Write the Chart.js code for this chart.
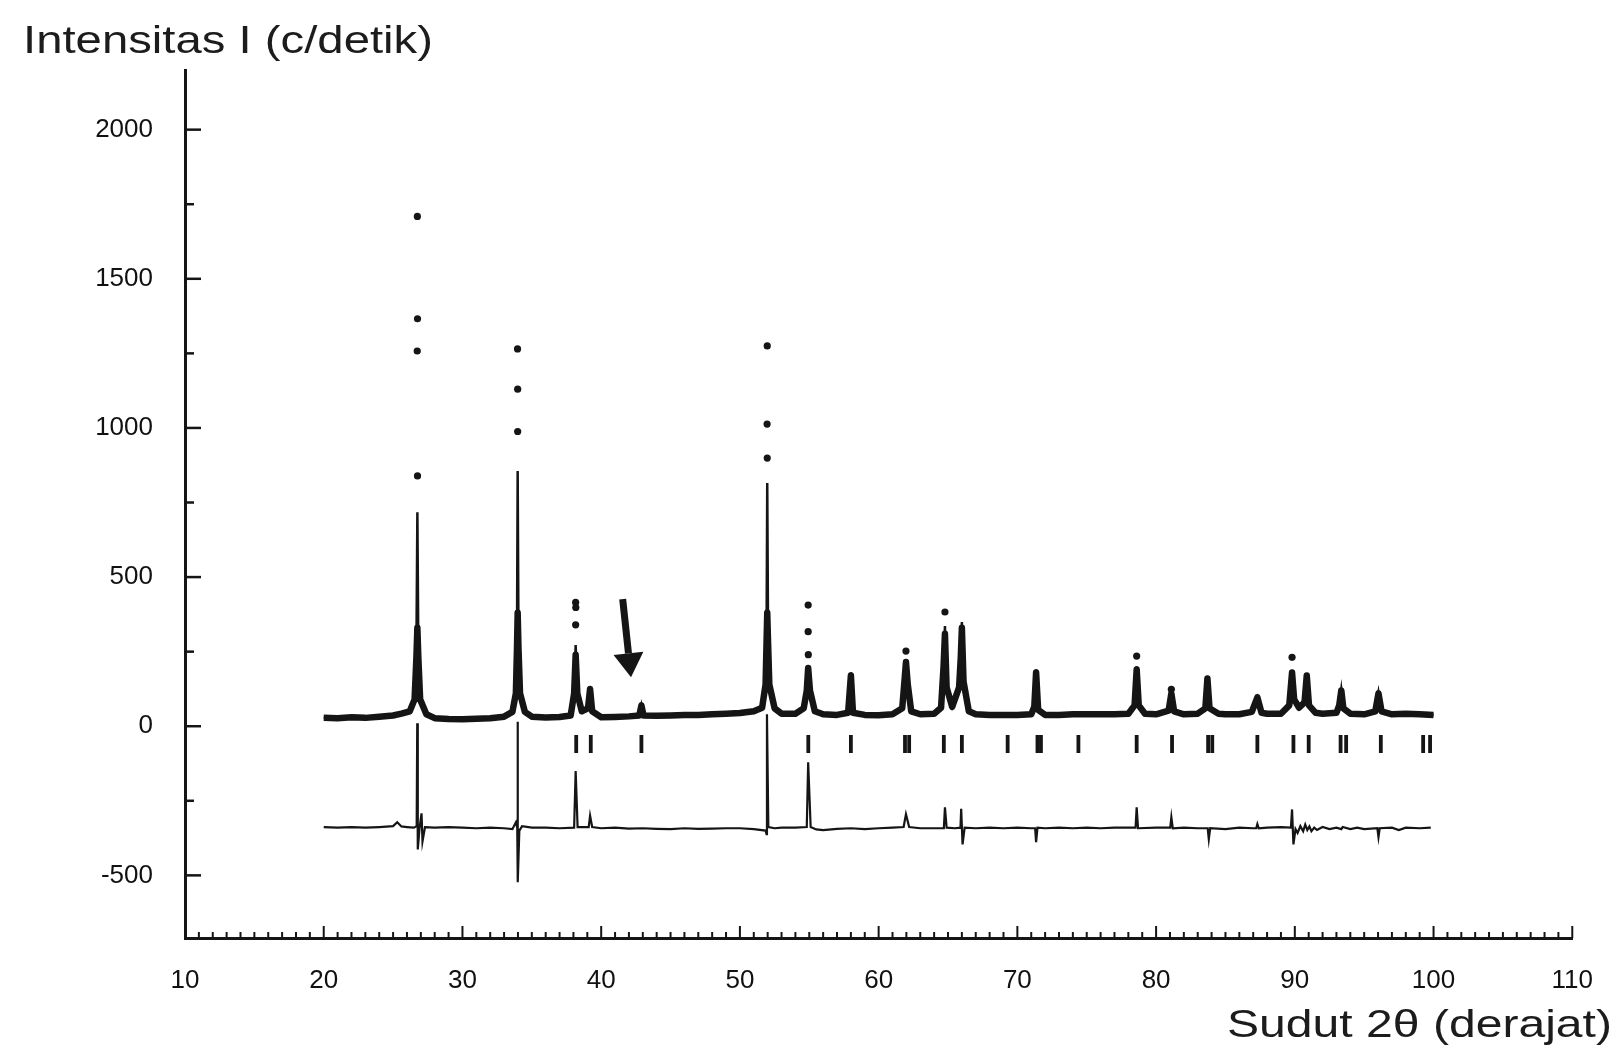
<!DOCTYPE html>
<html>
<head>
<meta charset="utf-8">
<script src="https://cdn.jsdelivr.net/npm/chart.js@4.4.1/dist/chart.umd.min.js"></script>
<style>
  html, body { margin: 0; padding: 0; background: #fff; }
  #wrap { width: 1620px; height: 1049px; }
</style>
</head>
<body>
<div id="wrap"><canvas id="xrd" width="1620" height="1049"></canvas></div>
<script>
// ---- data (2theta in degrees, intensity in counts/s) ----
var profX = [20.0, 21.0, 22.0, 23.0, 24.0, 25.0, 25.6, 26.2, 26.55, 26.68, 26.75, 26.82, 26.95, 27.4, 28.0, 29.0, 30.0, 31.0, 32.0, 33.0,
  33.6, 33.85, 33.93, 33.98, 34.04, 34.15, 34.5, 35.0, 36.0, 37.0, 37.8, 38.05, 38.16, 38.28, 38.6, 39.05, 39.2, 39.35, 40.0, 41.0,
  42.0, 42.75, 42.9, 43.05, 44.0, 45.0, 46.0, 47.0, 48.0, 49.0, 50.0, 51.0, 51.6, 51.85, 51.92, 51.97, 52.03, 52.12, 52.5, 53.0,
  54.0, 54.6, 54.82, 54.92, 55.05, 55.4, 56.0, 57.0, 57.8, 58.0, 58.15, 59.0, 60.0, 61.0, 61.7, 61.86, 61.97, 62.1, 62.35, 63.0,
  64.0, 64.5, 64.68, 64.78, 64.9, 65.3, 65.8, 65.92, 66.0, 66.12, 66.5, 67.0, 68.0, 69.0, 70.0, 71.0, 71.22, 71.35, 71.5, 72.0,
  73.0, 74.0, 75.0, 76.0, 77.0, 78.0, 78.45, 78.6, 78.75, 79.2, 80.0, 80.9, 81.1, 81.3, 82.0, 83.0, 83.55, 83.7, 83.85, 84.5,
  85.0, 86.0, 86.9, 87.3, 87.6, 88.0, 89.0, 89.6, 89.8, 89.95, 90.3, 90.7, 90.86, 91.02, 91.5, 92.0, 93.0, 93.2, 93.35, 93.5,
  94.0, 95.0, 95.8, 96.03, 96.25, 97.0, 98.0, 99.0, 100.0];
// calculated profile
var calcY = [28, 27, 30, 28, 32, 36, 42, 50, 90, 250, 717, 250, 90, 40, 27, 24, 23, 25, 27, 32,
  48, 110, 280, 856, 280, 110, 48, 32, 29, 31, 36, 110, 272, 110, 50, 60, 131, 50, 30, 31,
  33, 36, 70, 36, 35, 36, 38, 38, 40, 42, 44, 50, 62, 140, 300, 815, 300, 140, 60, 42,
  42, 60, 120, 201, 120, 50, 40, 38, 45, 181, 45, 38, 37, 40, 60, 150, 225, 140, 50, 40,
  42, 62, 200, 336, 130, 65, 130, 230, 349, 150, 50, 40, 38, 38, 38, 40, 65, 191, 55, 38,
  38, 40, 40, 40, 40, 42, 70, 201, 70, 42, 40, 52, 110, 50, 40, 42, 60, 164, 60, 42,
  40, 40, 48, 97, 45, 42, 42, 70, 185, 90, 62, 80, 174, 70, 45, 42, 45, 70, 124, 60,
  42, 40, 50, 114, 50, 40, 42, 40, 38];
// observed profile (dense points, drawn as a thick band)
var obsY = [28, 27, 30, 28, 32, 36, 42, 50, 90, 230, 330, 230, 90, 40, 27, 24, 23, 25, 27, 32,
  48, 110, 260, 380, 260, 110, 48, 32, 29, 31, 36, 110, 240, 110, 50, 60, 125, 50, 30, 31,
  33, 36, 70, 36, 35, 36, 38, 38, 40, 42, 44, 50, 62, 140, 280, 380, 280, 140, 60, 42,
  42, 60, 120, 195, 120, 50, 40, 38, 45, 170, 45, 38, 37, 40, 60, 150, 215, 140, 50, 40,
  42, 62, 200, 310, 130, 65, 130, 230, 330, 150, 50, 40, 38, 38, 38, 40, 65, 180, 55, 38,
  38, 40, 40, 40, 40, 42, 70, 190, 70, 42, 40, 52, 110, 50, 40, 42, 60, 160, 60, 42,
  40, 40, 48, 97, 45, 42, 42, 70, 180, 90, 62, 80, 170, 70, 45, 42, 45, 70, 120, 60,
  42, 40, 50, 110, 50, 40, 42, 40, 38];
// isolated observed points above the peaks
var dotX = [26.76, 26.74, 26.76, 26.75, 33.98, 33.98, 33.97, 38.16, 38.17, 38.16, 51.97, 51.96, 51.97,
  54.92, 54.92, 54.93, 61.97, 64.78, 78.6, 81.1, 89.8];
var dotY = [839, 1258, 1366, 1709, 988, 1130, 1265, 415, 398, 340, 899, 1013, 1275,
  406, 317, 240, 252, 383, 235, 124, 231];
// difference curve (obs - calc, offset)
var diffX = [20.0, 21, 22, 23, 24, 25.0, 25.3, 25.6, 26.0, 26.5, 26.7, 26.74, 26.78, 26.9, 27.05, 27.12, 27.3, 28, 29, 30,
  31, 32, 33, 33.6, 33.85, 33.95, 33.97, 34.0, 34.1, 34.3, 35, 36, 37, 38.05, 38.16, 38.3, 39.1, 39.2, 39.35, 40,
  41, 42, 43, 44, 45, 46, 47, 48, 49, 50, 51, 51.85, 51.92, 51.95, 52.05, 52.5, 53, 54, 54.82, 54.92,
  55.1, 55.5, 56, 57, 58, 59, 60, 61, 61.8, 61.97, 62.2, 63, 64, 64.7, 64.78, 64.9, 65.5, 65.9, 65.95, 66.05,
  66.2, 67, 68, 69, 70, 71, 71.28, 71.35, 71.45, 72, 73, 74, 75, 76, 77, 78, 78.52, 78.6, 78.7, 80,
  81.02, 81.1, 81.2, 82, 83, 83.72, 83.8, 83.9, 85, 86, 87, 87.22, 87.3, 87.4, 88, 89, 89.72, 89.8, 89.9, 90.05,
  90.2, 90.4, 90.6, 90.75, 90.9, 91.05, 91.2, 91.4, 91.6, 92, 92.5, 93, 93.35, 93.45, 94, 94.5, 95, 95.95, 96.03, 96.12,
  97, 97.5, 98, 99, 99.8];
var diffY = [-338, -340, -338, -340, -338, -335, -322, -336, -338, -340, -335, 10, -413, -345, -292, -386, -338, -340, -338, -340,
  -342, -340, -342, -345, -322, -340, 15, -523, -350, -335, -340, -340, -342, -340, -150, -338, -338, -300, -338, -342,
  -340, -343, -342, -344, -345, -342, -344, -343, -342, -342, -345, -350, -362, 40, -338, -342, -340, -340, -338, -121,
  -338, -346, -348, -344, -342, -345, -342, -340, -338, -295, -338, -342, -342, -342, -272, -340, -342, -340, -277, -396,
  -340, -342, -340, -342, -340, -342, -342, -389, -340, -342, -340, -342, -340, -342, -340, -340, -340, -272, -342, -340,
  -340, -305, -342, -340, -342, -342, -379, -342, -345, -340, -342, -342, -328, -342, -340, -338, -340, -279, -396, -345,
  -358, -335, -352, -330, -348, -336, -352, -340, -348, -338, -345, -340, -345, -338, -345, -340, -345, -342, -372, -342,
  -340, -348, -340, -342, -340];
// Bragg reflection positions
var reflX = [38.2, 39.25, 42.9, 54.93, 58.0, 61.9, 62.2, 64.7, 66.0, 69.3, 71.45, 71.7, 74.4, 78.6, 81.15,
  83.75, 84.05, 87.3, 89.9, 91.0, 93.3, 93.7, 96.2, 99.25, 99.75];
var reflLevel = -60;
// arrow pointing at the weak reflection near 42.9
var arrowX = [41.55, 42.15];
var arrowY = [426, 164];

var xTickVals = [10, 20, 30, 40, 50, 60, 70, 80, 90, 100, 110];
var yTickVals = [-500, 0, 500, 1000, 1500, 2000];
var yTitle = 'Intensitas I (c/detik)';
var xTitle = 'Sudut 2\u03b8 (derajat)';

var ink = '#151515';

function pairs(xs, ys) {
  return xs.map(function(x, i) { return { x: x, y: ys[i] }; });
}

function stretchedText(ctx, text, left, right, baseline, size) {
  ctx.font = size + 'px "Liberation Sans", Arial, sans-serif';
  var w = ctx.measureText(text).width;
  ctx.save();
  ctx.translate(left, baseline);
  ctx.scale((right - left) / w, 1);
  ctx.textAlign = 'left';
  ctx.textBaseline = 'alphabetic';
  ctx.fillStyle = '#1c1c1c';
  ctx.fillText(text, 0, 0);
  ctx.restore();
}

const decor = {
  id: 'decor',
  beforeDraw: (chart) => {
    const ctx = chart.ctx;
    ctx.save();
    ctx.fillStyle = 'white';
    ctx.fillRect(0, 0, chart.width, chart.height);
    ctx.restore();
  },
  afterDraw: (chart) => {
    const ctx = chart.ctx;
    const xs = chart.scales.x, ys = chart.scales.y, area = chart.chartArea;
    ctx.save();
    ctx.strokeStyle = ink;
    ctx.lineWidth = 2;
    ctx.lineCap = 'butt';
    // inward ticks on the x axis, minor every degree
    for (var v = xs.min; v <= xs.max; v++) {
      var px = xs.getPixelForValue(v);
      var len = (v % 10 === 0) ? 12 : 6;
      ctx.beginPath();
      ctx.moveTo(px, area.bottom);
      ctx.lineTo(px, area.bottom - len);
      ctx.stroke();
    }
    // inward ticks on the y axis, minor every 250
    ctx.lineWidth = 2.5;
    for (var w = -500; w <= 2000; w += 250) {
      var py = ys.getPixelForValue(w);
      var l2 = (w % 500 === 0) ? 16 : 9;
      ctx.beginPath();
      ctx.moveTo(area.left, py);
      ctx.lineTo(area.left + l2, py);
      ctx.stroke();
    }
    // arrow
    var x0 = xs.getPixelForValue(arrowX[0]), y0 = ys.getPixelForValue(arrowY[0]);
    var x1 = xs.getPixelForValue(arrowX[1]), y1 = ys.getPixelForValue(arrowY[1]);
    var ang = Math.atan2(y1 - y0, x1 - x0);
    var headLen = 24, headHalf = 15;
    var bx = x1 - headLen * Math.cos(ang), by = y1 - headLen * Math.sin(ang);
    ctx.lineWidth = 7;
    ctx.beginPath();
    ctx.moveTo(x0, y0);
    ctx.lineTo(bx, by);
    ctx.stroke();
    ctx.fillStyle = ink;
    ctx.beginPath();
    ctx.moveTo(x1, y1);
    ctx.lineTo(bx + headHalf * Math.sin(ang), by - headHalf * Math.cos(ang));
    ctx.lineTo(bx - headHalf * Math.sin(ang), by + headHalf * Math.cos(ang));
    ctx.closePath();
    ctx.fill();
    ctx.restore();
    // axis titles (the source artwork is stretched sideways)
    stretchedText(ctx, yTitle, 23, 433, 53, 38);
    stretchedText(ctx, xTitle, 1227, 1612, 1037, 39);
  }
};

var ctx = document.getElementById('xrd').getContext('2d');
var chart = new Chart(ctx, {
  type: 'line',
  data: {
    datasets: [{
      label: 'Yobs',
      data: pairs(profX, obsY),
      borderColor: ink,
      borderWidth: 6.5,
      borderJoinStyle: 'round',
      pointRadius: 0,
      tension: 0,
      order: 4
    }, {
      label: 'Ycalc',
      data: pairs(profX, calcY),
      borderColor: ink,
      borderWidth: 2.5,
      pointRadius: 0,
      tension: 0,
      order: 3
    }, {
      label: 'Yobs points',
      type: 'scatter',
      data: pairs(dotX, dotY),
      backgroundColor: ink,
      borderWidth: 0,
      pointRadius: 3.6,
      showLine: false,
      order: 1
    }, {
      label: 'Yobs - Ycalc',
      data: pairs(diffX, diffY),
      borderColor: ink,
      borderWidth: 2.2,
      pointRadius: 0,
      tension: 0,
      order: 2
    }, {
      label: 'Bragg',
      type: 'scatter',
      data: reflX.map(function(x) { return { x: x, y: reflLevel }; }),
      pointStyle: 'line',
      rotation: 90,
      pointRadius: 9,
      borderColor: ink,
      borderWidth: 3.8,
      showLine: false,
      order: 1
    }]
  },
  options: {
    responsive: false,
    animation: false,
    devicePixelRatio: 1,
    layout: { padding: { top: 70, right: 30, left: 0, bottom: 0 } },
    plugins: { legend: { display: false }, tooltip: { enabled: false } },
    scales: {
      x: {
        type: 'linear',
        min: 10,
        max: 110,
        afterBuildTicks: function(s) { s.ticks = xTickVals.map(function(v) { return { value: v }; }); },
        afterFit: function(s) { s.height = 111; },
        grid: { display: false, drawTicks: false },
        border: { display: true, color: ink, width: 3 },
        ticks: {
          autoSkip: false, maxRotation: 0, padding: 27, color: '#111',
          font: { family: '"Liberation Sans", Arial, sans-serif', size: 26 },
          callback: function(v) { return String(v); }
        }
      },
      y: {
        type: 'linear',
        min: -710,
        max: 2200,
        afterBuildTicks: function(s) { s.ticks = yTickVals.map(function(v) { return { value: v }; }); },
        afterFit: function(s) { s.width = 185; },
        grid: { display: false, drawTicks: false },
        border: { display: true, color: ink, width: 3 },
        ticks: {
          autoSkip: false, padding: 32, color: '#111',
          font: { family: '"Liberation Sans", Arial, sans-serif', size: 26 },
          callback: function(v) { return String(v); }
        }
      }
    }
  },
  plugins: [decor]
});
</script>
</body>
</html>
